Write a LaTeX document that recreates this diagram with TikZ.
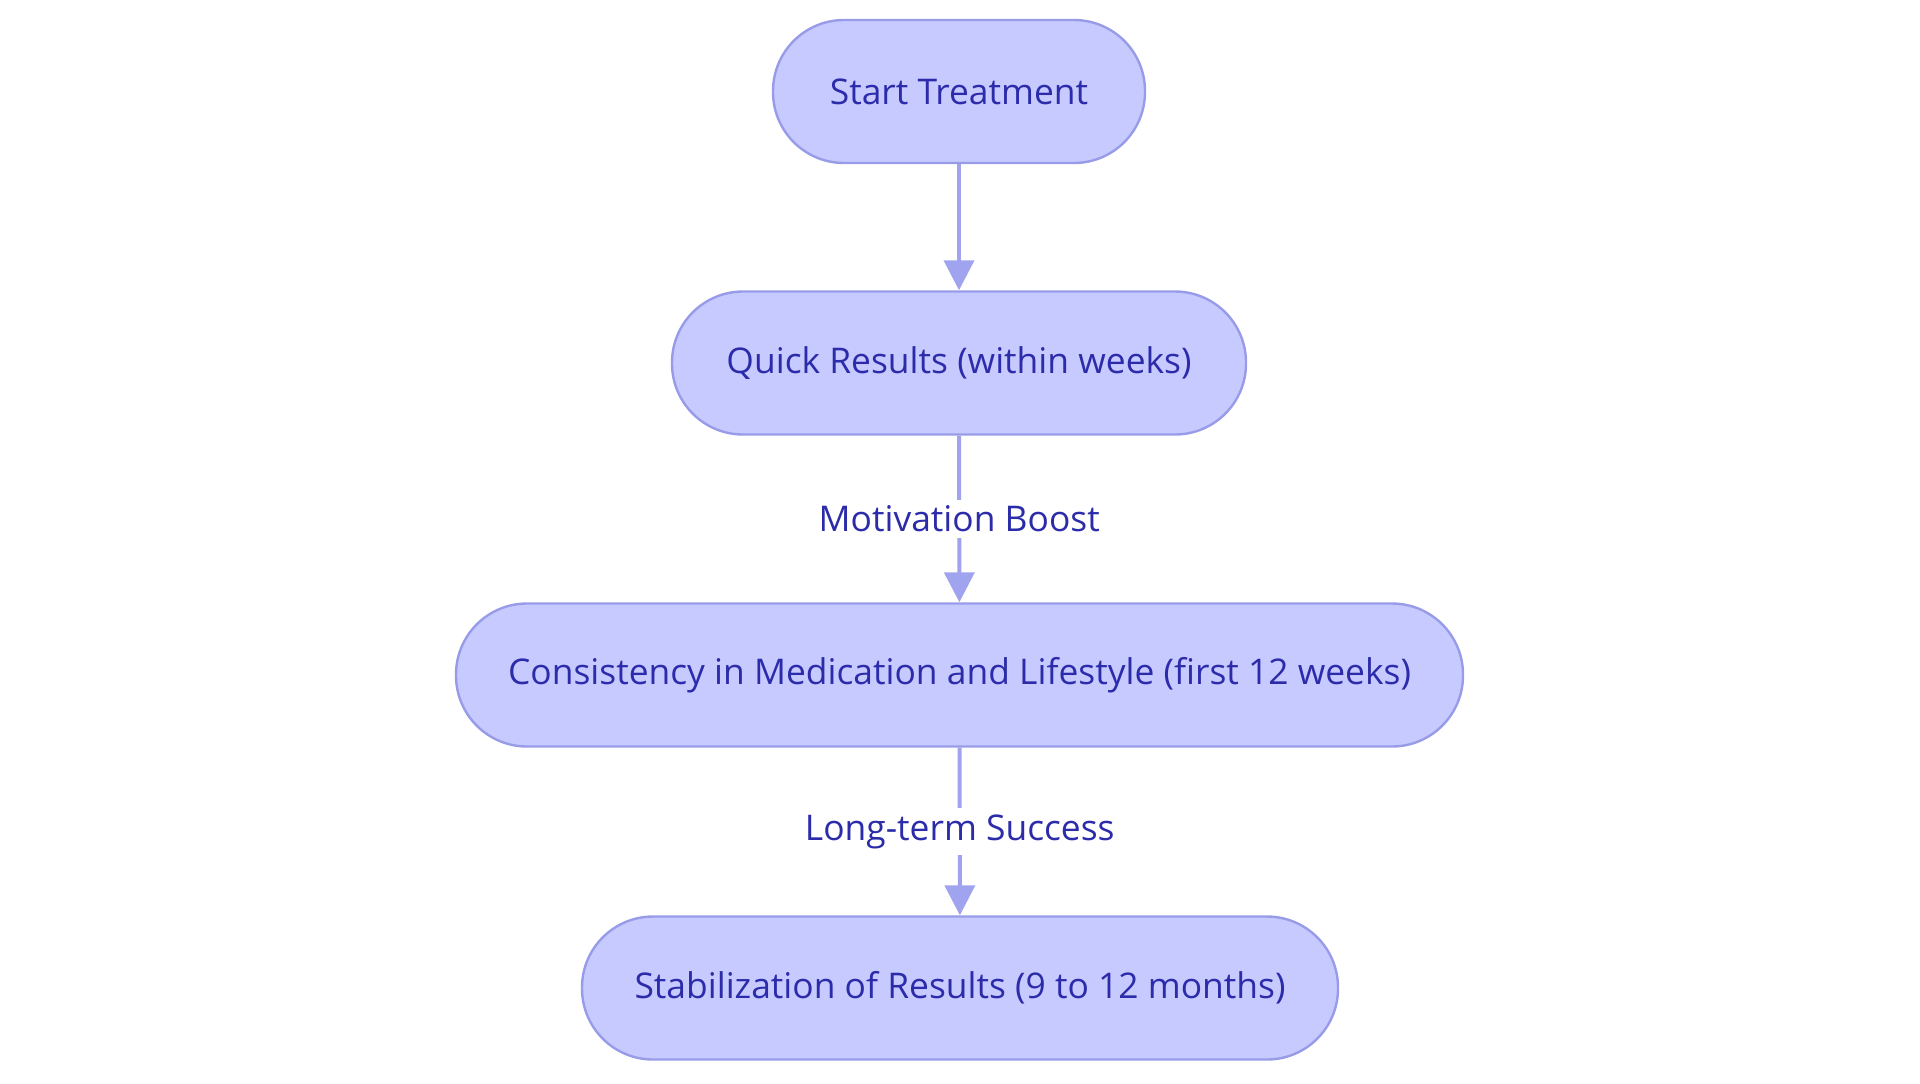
\documentclass[tikz,border=0pt]{standalone}
\usepackage{fontspec}
\setmainfont{Open Sans}
\usetikzlibrary{arrows.meta}
\definecolor{boxfill}{RGB}{199,202,255}
\definecolor{boxline}{RGB}{152,156,232}
\definecolor{edgeline}{RGB}{160,164,238}
\definecolor{txt}{RGB}{44,44,170}
\begin{document}
\begin{tikzpicture}[x=0.5pt, y=-0.5pt,
  pill/.style={draw=boxline, line width=1.2pt, fill=boxfill, rounded corners=35.5pt, minimum height=71.5pt, text=txt, font=\fontsize{17.7}{21}\selectfont},
  flow/.style={draw=edgeline, line width=2pt, -{Triangle[length=15pt, width=15pt]}},
  tag/.style={fill=white, text=txt, inner sep=3pt, font=\fontsize{17.7}{21}\selectfont}]
\useasboundingbox (0,0) rectangle (1920,1083);
%nodes
\node[pill, minimum width=186pt] (start) at (959, 91.5) {Start Treatment};
\node[pill, minimum width=287pt] (quick) at (959, 363) {Quick Results (within weeks)};
\node[pill, minimum width=503.5pt] (cons) at (959.5, 675) {Consistency in Medication and Lifestyle (first 12 weeks)};
\node[pill, minimum width=378pt] (stab) at (960, 988) {Stabilization of Results (9 to 12 months)};
%edges
\draw[flow] (start) -- (quick);
\draw[flow] (quick) -- (cons) node[tag, midway] (motiv) {Motivation Boost};
\draw[flow] (cons) -- (stab) node[tag, midway] (longterm) {Long-term Success};
\end{tikzpicture}
\end{document}
